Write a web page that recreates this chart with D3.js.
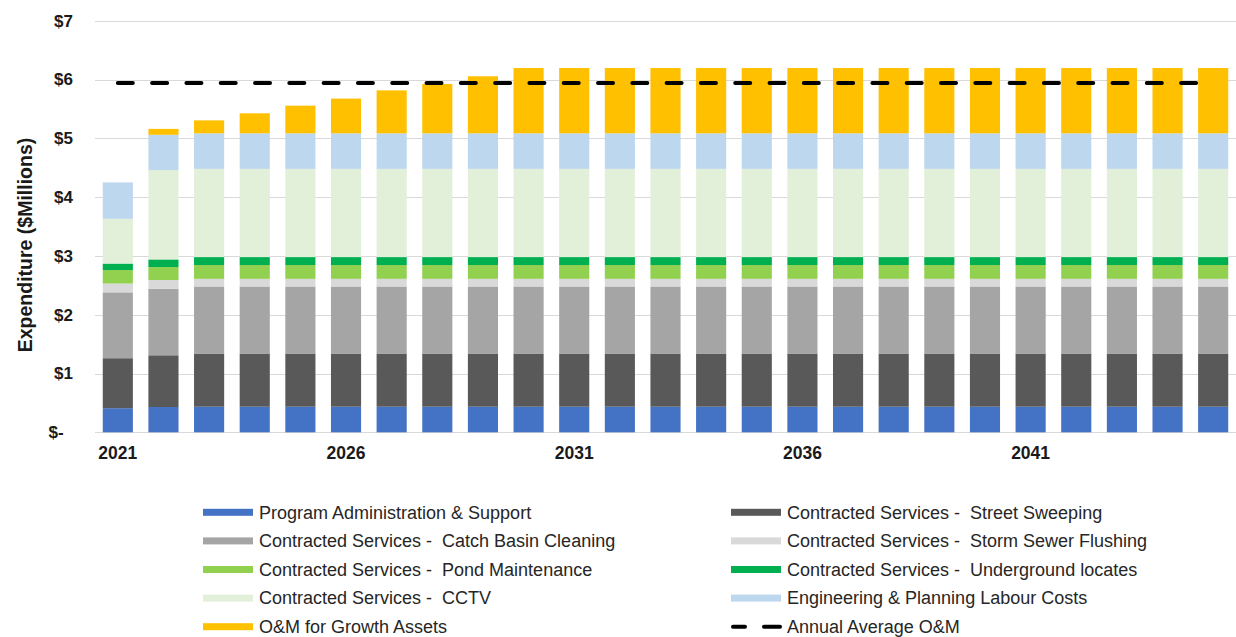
<!DOCTYPE html>
<html>
<head>
<meta charset="utf-8">
<title>O&amp;M Expenditure</title>
<script src="https://cdn.jsdelivr.net/npm/d3@7"></script>
<style>
  body { margin: 0; background: #fff; }
  svg { display: block; font-family: "Liberation Sans", Arial, sans-serif; }
  .legend text { white-space: pre; }
</style>
</head>
<body>
<div id="chart"></div>
<script>

// values, $ millions
const years = [2021, 2022, 2023, 2024, 2025, 2026, 2027, 2028, 2029, 2030, 2031, 2032, 2033,
  2034, 2035, 2036, 2037, 2038, 2039, 2040, 2041, 2042, 2043, 2044, 2045];
const tickYears = [2021, 2026, 2031, 2036, 2041];
const yTicks = [0, 1, 2, 3, 4, 5, 6, 7];

const adminSupport = [0.41, 0.43, 0.435, 0.435, 0.435, 0.435, 0.435, 0.435, 0.435, 0.435, 0.435, 0.435, 0.435,
  0.435, 0.435, 0.435, 0.435, 0.435, 0.435, 0.435, 0.435, 0.435, 0.435, 0.435, 0.435];
const streetSweeping = [0.85, 0.88, 0.905, 0.905, 0.905, 0.905, 0.905, 0.905, 0.905, 0.905, 0.905, 0.905, 0.905,
  0.905, 0.905, 0.905, 0.905, 0.905, 0.905, 0.905, 0.905, 0.905, 0.905, 0.905, 0.905];
const catchBasin = [1.12, 1.13, 1.14, 1.14, 1.14, 1.14, 1.14, 1.14, 1.14, 1.14, 1.14, 1.14, 1.14,
  1.14, 1.14, 1.14, 1.14, 1.14, 1.14, 1.14, 1.14, 1.14, 1.14, 1.14, 1.14];
const stormSewer = [0.15, 0.15, 0.13, 0.13, 0.13, 0.13, 0.13, 0.13, 0.13, 0.13, 0.13, 0.13, 0.13,
  0.13, 0.13, 0.13, 0.13, 0.13, 0.13, 0.13, 0.13, 0.13, 0.13, 0.13, 0.13];
const pond = [0.23, 0.22, 0.235, 0.235, 0.235, 0.235, 0.235, 0.235, 0.235, 0.235, 0.235, 0.235, 0.235,
  0.235, 0.235, 0.235, 0.235, 0.235, 0.235, 0.235, 0.235, 0.235, 0.235, 0.235, 0.235];
const underground = [0.11, 0.13, 0.135, 0.135, 0.135, 0.135, 0.135, 0.135, 0.135, 0.135, 0.135, 0.135, 0.135,
  0.135, 0.135, 0.135, 0.135, 0.135, 0.135, 0.135, 0.135, 0.135, 0.135, 0.135, 0.135];
const cctv = [0.76, 1.52, 1.50, 1.50, 1.50, 1.50, 1.50, 1.50, 1.50, 1.50, 1.50, 1.50, 1.50,
  1.50, 1.50, 1.50, 1.50, 1.50, 1.50, 1.50, 1.50, 1.50, 1.50, 1.50, 1.50];
const engineering = [0.62, 0.60, 0.605, 0.605, 0.605, 0.605, 0.605, 0.605, 0.605, 0.605, 0.605, 0.605, 0.605,
  0.605, 0.605, 0.605, 0.605, 0.605, 0.605, 0.605, 0.605, 0.605, 0.605, 0.605, 0.605];
const growthAssets = [0, 0.10, 0.22, 0.34, 0.47, 0.59, 0.73, 0.84, 0.97, 1.11, 1.11, 1.11, 1.11,
  1.11, 1.11, 1.11, 1.11, 1.11, 1.11, 1.11, 1.11, 1.11, 1.11, 1.11, 1.11];
const annualAverage = 5.94;

const series = [
  {key: "admin", name: "Program Administration & Support", values: adminSupport, color: "#4472C4"},
  {key: "street", name: "Contracted Services -  Street Sweeping", values: streetSweeping, color: "#595959"},
  {key: "catch", name: "Contracted Services -  Catch Basin Cleaning", values: catchBasin, color: "#A5A5A5"},
  {key: "storm", name: "Contracted Services -  Storm Sewer Flushing", values: stormSewer, color: "#D9D9D9"},
  {key: "pond", name: "Contracted Services -  Pond Maintenance", values: pond, color: "#92D050"},
  {key: "under", name: "Contracted Services -  Underground locates", values: underground, color: "#00B050"},
  {key: "cctv", name: "Contracted Services -  CCTV", values: cctv, color: "#E2F0D9"},
  {key: "eng", name: "Engineering & Planning Labour Costs", values: engineering, color: "#BDD7EE"},
  {key: "growth", name: "O&M for Growth Assets", values: growthAssets, color: "#FFC000"}
];

const W = 1236, H = 637;
const svg = d3.select("#chart").append("svg")
  .attr("width", W).attr("height", H);

const x = d3.scaleBand().domain(years).range([95, 1236])
  .paddingInner(0.34).paddingOuter(0.17);
const y = d3.scaleLinear().domain([0, 7]).range([432.3, 20.7]);

// rows for the stack
const table = years.map((yr, i) => {
  const row = {year: yr};
  series.forEach(s => row[s.key] = s.values[i]);
  return row;
});
const stacked = d3.stack().keys(series.map(s => s.key))(table);

// grid
svg.append("g").selectAll("line")
  .data(yTicks)
  .join("line")
    .attr("x1", 95).attr("x2", 1236)
    .attr("y1", d => Math.round(y(d)) + 0.5).attr("y2", d => Math.round(y(d)) + 0.5)
    .attr("stroke", "#d9d9d9").attr("stroke-width", 1);

// y labels
svg.append("g").selectAll("text")
  .data(yTicks)
  .join("text")
    .attr("x", 73).attr("y", d => y(d))
    .attr("dy", "0.35em")
    .attr("text-anchor", "end")
    .attr("font-size", 17).attr("font-weight", "bold").attr("fill", "#1a1a1a")
    .style("white-space", "pre")
    .text(d => d === 0 ? "$-  " : "$" + d);

// bars
svg.append("g").selectAll("g")
  .data(stacked)
  .join("g")
    .attr("fill", (d, i) => series[i].color)
  .selectAll("rect")
  .data(d => d)
  .join("rect")
    .attr("x", d => x(d.data.year))
    .attr("width", x.bandwidth())
    .attr("y", d => y(d[1]))
    .attr("height", d => Math.max(0, y(d[0]) - y(d[1])));

// annual average line
const first = x(years[0]) + x.bandwidth() / 2;
const last = x(years[years.length - 1]) + x.bandwidth() / 2;
svg.append("line")
  .attr("x1", first).attr("x2", last - 2)
  .attr("y1", y(annualAverage)).attr("y2", y(annualAverage))
  .attr("stroke", "#000").attr("stroke-width", 4)
  .attr("stroke-linecap", "round")
  .attr("stroke-dasharray", "15,19.3");

// x labels
svg.append("g").selectAll("text")
  .data(tickYears)
  .join("text")
    .attr("x", d => x(d) + x.bandwidth() / 2)
    .attr("y", 459)
    .attr("text-anchor", "middle")
    .attr("font-size", 17.5).attr("font-weight", "bold").attr("fill", "#1a1a1a")
    .text(d => d);

// y title
svg.append("text")
  .attr("transform", "translate(32,245) rotate(-90)")
  .attr("text-anchor", "middle")
  .attr("font-size", 19.5).attr("font-weight", "bold").attr("fill", "#1a1a1a")
  .text("Expenditure ($Millions)");

// legend
const legendItems = series.map(s => ({name: s.name, color: s.color, dashed: false}))
  .concat([{name: "Annual Average O&M", color: "#000", dashed: true}]);
const legend = svg.append("g").attr("class", "legend");
const li = legend.selectAll("g")
  .data(legendItems)
  .join("g")
    .attr("transform", (d, i) => `translate(${i % 2 === 0 ? 203 : 731},${512.3 + Math.floor(i / 2) * 28.6})`);

li.filter(d => !d.dashed).append("rect")
  .attr("x", 0).attr("y", -3.5).attr("width", 50).attr("height", 7)
  .attr("fill", d => d.color);

li.filter(d => d.dashed).append("line")
  .attr("x1", 2).attr("x2", 49).attr("y1", 0).attr("y2", 0)
  .attr("stroke", "#000").attr("stroke-width", 4)
  .attr("stroke-linecap", "round")
  .attr("stroke-dasharray", "12,19,16,100");

li.append("text")
  .attr("x", 56).attr("y", 0).attr("dy", "0.35em")
  .attr("font-size", 18).attr("fill", "#262626")
  .text(d => d.name);

</script>
</body>
</html>
